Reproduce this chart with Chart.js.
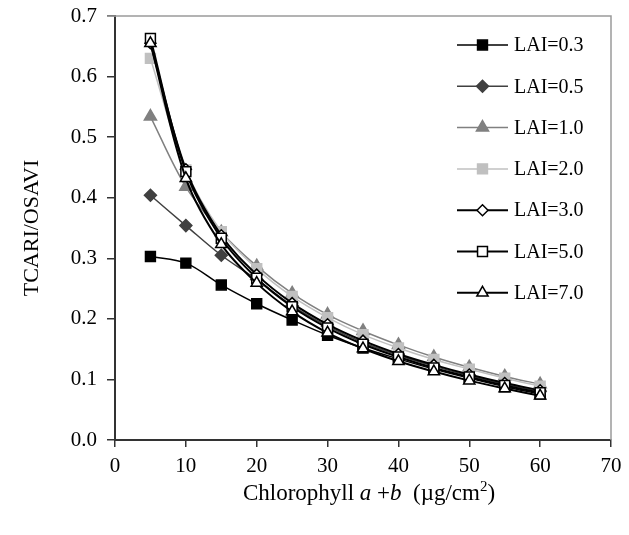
<!DOCTYPE html>
<html>
<head>
<meta charset="utf-8">
<script src="https://cdn.jsdelivr.net/npm/chart.js@4.4.1/dist/chart.umd.min.js"></script>
<style>
  body { margin: 0; background: #fff; }
  canvas { display: block; }
</style>
</head>
<body>
<canvas id="chart" width="629" height="535"></canvas>
<script>
// chlorophyll a+b (ug/cm2)
const chl = [5, 10, 15, 20, 25, 30, 35, 40, 45, 50, 55, 60];

// TCARI/OSAVI per LAI
const lai03 = [0.303, 0.292, 0.256, 0.225, 0.198, 0.173, 0.152, 0.134, 0.117, 0.102, 0.088, 0.076];
const lai05 = [0.404, 0.354, 0.305, 0.265, 0.222, 0.188, 0.161, 0.140, 0.122, 0.106, 0.092, 0.080];
const lai10 = [0.534, 0.418, 0.343, 0.287, 0.242, 0.207, 0.180, 0.157, 0.137, 0.120, 0.105, 0.092];
const lai20 = [0.630, 0.446, 0.344, 0.283, 0.237, 0.202, 0.174, 0.152, 0.133, 0.117, 0.102, 0.089];
const lai30 = [0.655, 0.447, 0.338, 0.273, 0.226, 0.191, 0.164, 0.142, 0.124, 0.108, 0.094, 0.082];
const lai50 = [0.663, 0.443, 0.333, 0.267, 0.220, 0.185, 0.158, 0.137, 0.119, 0.104, 0.090, 0.078];
const lai70 = [0.655, 0.432, 0.323, 0.259, 0.212, 0.177, 0.151, 0.130, 0.113, 0.098, 0.085, 0.073];

const seriesLabels = ['LAI=0.3', 'LAI=0.5', 'LAI=1.0', 'LAI=2.0', 'LAI=3.0', 'LAI=5.0', 'LAI=7.0'];
const seriesValues = [lai03, lai05, lai10, lai20, lai30, lai50, lai70];

const FONT = '"Liberation Serif", "Times New Roman", serif';

const styles = [
  { line: '#000000', fill: '#000000', stroke: '#000000', shape: 'rect', r: 7, lw: 1.5 },
  { line: '#404040', fill: '#404040', stroke: '#404040', shape: 'rectRot', r: 6, lw: 1.5 },
  { line: '#808080', fill: '#808080', stroke: '#808080', shape: 'triangle', r: 7, lw: 1.5 },
  { line: '#c0c0c0', fill: '#c0c0c0', stroke: '#c0c0c0', shape: 'rect', r: 7, lw: 1.5 },
  { line: '#000000', fill: '#ffffff', stroke: '#000000', shape: 'rectRot', r: 5.5, lw: 2 },
  { line: '#000000', fill: '#ffffff', stroke: '#000000', shape: 'rect', r: 7, lw: 2 },
  { line: '#000000', fill: '#ffffff', stroke: '#000000', shape: 'triangle', r: 6.5, lw: 2 }
];

const datasets = seriesValues.map((vals, i) => ({
  label: seriesLabels[i],
  data: chl.map((c, j) => ({ x: c, y: vals[j] })),
  borderColor: styles[i].line,
  borderWidth: styles[i].lw,
  backgroundColor: styles[i].fill,
  pointStyle: styles[i].shape,
  pointRadius: styles[i].r,
  pointBackgroundColor: styles[i].fill,
  pointBorderColor: styles[i].stroke,
  pointBorderWidth: 1.5,
  tension: 0.35,
  showLine: true,
  fill: false,
  order: seriesValues.length - 1 - i
}));

// grey frame on top and right of plot area
const frame = {
  id: 'frame',
  beforeDatasetsDraw(chart) {
    const { ctx, chartArea: a } = chart;
    ctx.save();
    ctx.strokeStyle = '#9a9a9a';
    ctx.lineWidth = 1.5;
    ctx.beginPath();
    ctx.moveTo(a.left - 8, a.top);
    ctx.lineTo(a.right, a.top);
    ctx.lineTo(a.right, a.bottom);
    ctx.stroke();
    ctx.restore();
  }
};

// legend inside the plot, line + marker like the original
const insideLegend = {
  id: 'insideLegend',
  afterDraw(chart) {
    const { ctx, chartArea: a } = chart;
    ctx.save();
    chart.data.datasets.forEach((ds, i) => {
      const y = a.top + 29 + i * 41.3;
      const x0 = a.right - 154, x1 = a.right - 103;
      ctx.strokeStyle = ds.borderColor;
      ctx.lineWidth = ds.borderWidth;
      ctx.beginPath();
      ctx.moveTo(x0, y);
      ctx.lineTo(x1, y);
      ctx.stroke();
      ctx.fillStyle = ds.pointBackgroundColor;
      ctx.strokeStyle = ds.pointBorderColor;
      ctx.lineWidth = ds.pointBorderWidth;
      Chart.helpers.drawPoint(ctx, { pointStyle: ds.pointStyle, radius: ds.pointRadius, borderWidth: ds.pointBorderWidth, rotation: 0 }, (x0 + x1) / 2, y);
      ctx.fillStyle = '#000';
      ctx.font = '20px ' + FONT;
      ctx.textBaseline = 'middle';
      ctx.textAlign = 'left';
      ctx.fillText(ds.label, a.right - 97, y + 1);
    });
    ctx.restore();
  }
};

// x title with italic a, b and superscript 2
const xTitle = {
  id: 'xTitle',
  afterDraw(chart) {
    const { ctx, chartArea: a } = chart;
    const parts = [
      { t: 'Chlorophyll ', f: '23px ' + FONT },
      { t: 'a', f: 'italic 23px ' + FONT },
      { t: ' +', f: '23px ' + FONT },
      { t: 'b', f: 'italic 23px ' + FONT },
      { t: '  (\u00b5g/cm', f: '23px ' + FONT },
      { t: '2', f: '15px ' + FONT, dy: -9 },
      { t: ')', f: '23px ' + FONT }
    ];
    ctx.save();
    ctx.fillStyle = '#000';
    ctx.textBaseline = 'alphabetic';
    ctx.textAlign = 'left';
    let w = 0;
    parts.forEach(p => { ctx.font = p.f; w += ctx.measureText(p.t).width; });
    let x = (a.left + a.right) / 2 - w / 2 + 6;
    const base = 500;
    parts.forEach(p => {
      ctx.font = p.f;
      ctx.fillText(p.t, x, base + (p.dy || 0));
      x += ctx.measureText(p.t).width;
    });
    ctx.restore();
  }
};

new Chart(document.getElementById('chart').getContext('2d'), {
  type: 'line',
  data: { datasets },
  plugins: [frame, insideLegend, xTitle],
  options: {
    responsive: false,
    animation: false,
    layout: { padding: { top: 16, right: 18, left: 0, bottom: 0 } },
    plugins: { legend: { display: false }, tooltip: { enabled: false } },
    scales: {
      x: {
        type: 'linear',
        min: 0,
        max: 70,
        ticks: { stepSize: 10, color: '#000', font: { family: FONT, size: 21 }, padding: 7, maxRotation: 0 },
        grid: { drawOnChartArea: false, drawTicks: true, tickLength: 7, color: '#333', lineWidth: 1.5 },
        border: { color: '#333', width: 2 },
        title: { display: false },
        afterFit(scale) { scale.height = 95; scale.paddingLeft = 0; scale.paddingRight = 0; }
      },
      y: {
        min: 0,
        max: 0.7,
        ticks: { stepSize: 0.1, color: '#000', font: { family: FONT, size: 21 }, padding: 10, callback: v => v.toFixed(1) },
        grid: { drawOnChartArea: false, drawTicks: true, tickLength: 8, color: '#333', lineWidth: 1.5 },
        border: { color: '#333', width: 2 },
        title: {
          display: true,
          text: 'TCARI/OSAVI',
          color: '#000',
          font: { family: FONT, size: 22 },
          padding: { top: 19, bottom: 0 }
        },
        afterFit(scale) { scale.width = 115; scale.paddingTop = 0; scale.paddingBottom = 0; }
      }
    }
  }
});
</script>
</body>
</html>
